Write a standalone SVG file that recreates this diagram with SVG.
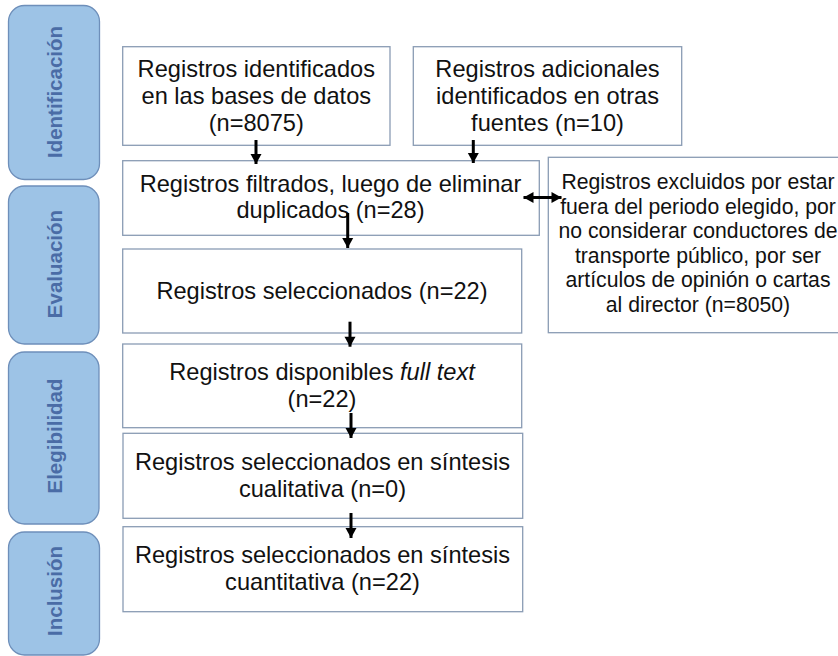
<svg xmlns="http://www.w3.org/2000/svg" width="838" height="656" viewBox="0 0 838 656">
<style>
.bar{fill:#9DC3E6;stroke:#6E8FBA;stroke-width:1.3}
.lab{font-family:"Liberation Sans",Arial,sans-serif;font-weight:bold;font-size:20.5px;fill:#4A6CA6;text-anchor:middle}
.box{fill:#FFFFFF;stroke:#8A9CB4;stroke-width:1.3}
.t{font-family:"Liberation Sans",Arial,sans-serif;font-size:23.6px;fill:#111111;text-anchor:middle}
.ts{font-family:"Liberation Sans",Arial,sans-serif;font-size:21.2px;fill:#111111;text-anchor:middle}
.arr{stroke:#000000;stroke-width:3;fill:none}
</style>
<defs>
<marker id="ah" markerUnits="userSpaceOnUse" markerWidth="12" markerHeight="12" viewBox="0 0 12 12" refX="10.5" refY="6" orient="auto-start-reverse">
<path d="M0.5,0.5 L10.5,6 L0.5,11.5 Z" fill="#000000"/>
</marker>
</defs>
<rect width="838" height="656" fill="#FFFFFF"/>
<g id="phase-identificacion">
<rect class="bar" x="8.5" y="5.5" width="91" height="174" rx="16"/>
<text class="lab" transform="translate(61.5,92) rotate(-90)">Identificación</text>
</g>
<g id="phase-evaluacion">
<rect class="bar" x="8.5" y="186" width="90.5" height="158" rx="16"/>
<text class="lab" transform="translate(61.5,264) rotate(-90)">Evaluación</text>
</g>
<g id="phase-elegibilidad">
<rect class="bar" x="8.5" y="352" width="90.5" height="172" rx="16"/>
<text class="lab" transform="translate(61.5,436) rotate(-90)">Elegibilidad</text>
</g>
<g id="phase-inclusion">
<rect class="bar" x="8.5" y="532" width="91" height="123" rx="16"/>
<text class="lab" transform="translate(61.5,591) rotate(-90)">Inclusión</text>
</g>
<g id="n-identificados">
<rect class="box" x="122.7" y="46.7" width="267.3" height="98.6"/>
<text class="t" x="256.3" y="77">Registros identificados</text>
<text class="t" x="256.3" y="104">en las bases de datos</text>
<text class="t" x="256.3" y="130.5">(n=8075)</text>
</g>
<g id="n-adicionales">
<rect class="box" x="413.3" y="46.7" width="268.4" height="98.6"/>
<text class="t" x="547.5" y="77">Registros adicionales</text>
<text class="t" x="547.5" y="104">identificados en otras</text>
<text class="t" x="547.5" y="130.5">fuentes (n=10)</text>
</g>
<g id="n-filtrados">
<rect class="box" x="122.7" y="160.7" width="416.6" height="74.6"/>
<text class="t" x="330.5" y="191.7">Registros filtrados, luego de eliminar</text>
<text class="t" x="330.5" y="218.3">duplicados (n=28)</text>
</g>
<g id="n-excluidos">
<rect class="box" x="548.3" y="157.3" width="296" height="175.4"/>
<text class="ts" x="698" y="189.3">Registros excluidos por estar</text>
<text class="ts" x="698" y="213.8">fuera del periodo elegido, por</text>
<text class="ts" x="698" y="238.3">no considerar conductores de</text>
<text class="ts" x="698" y="262.7">transporte público, por ser</text>
<text class="ts" x="698" y="287">artículos de opinión o cartas</text>
<text class="ts" x="698" y="311.7">al director (n=8050)</text>
</g>
<g id="n-seleccionados">
<rect class="box" x="122.7" y="249" width="399" height="84"/>
<text class="t" x="322" y="298.5">Registros seleccionados (n=22)</text>
</g>
<g id="n-fulltext">
<rect class="box" x="122.7" y="344" width="399" height="83.7"/>
<text class="t" x="322" y="380">Registros disponibles <tspan font-style="italic">full text</tspan></text>
<text class="t" x="322" y="407.3">(n=22)</text>
</g>
<g id="n-cualitativa">
<rect class="box" x="123" y="433.3" width="399.7" height="85"/>
<text class="t" x="322.5" y="470">Registros seleccionados en síntesis</text>
<text class="t" x="322.5" y="496.7">cualitativa (n=0)</text>
</g>
<g id="n-cuantitativa">
<rect class="box" x="123" y="526.7" width="399.7" height="85"/>
<text class="t" x="322.5" y="563.3">Registros seleccionados en síntesis</text>
<text class="t" x="322.5" y="590">cuantitativa (n=22)</text>
</g>
<g id="connectors">
<line class="arr" x1="256" y1="140" x2="256" y2="164" marker-end="url(#ah)"/>
<line class="arr" x1="473.3" y1="140" x2="473.3" y2="163" marker-end="url(#ah)"/>
<line class="arr" x1="347.7" y1="213" x2="347.7" y2="248" marker-end="url(#ah)"/>
<line class="arr" x1="350" y1="321.7" x2="350" y2="346.7" marker-end="url(#ah)"/>
<line class="arr" x1="351" y1="413" x2="351" y2="438" marker-end="url(#ah)"/>
<line class="arr" x1="351" y1="513" x2="351" y2="538" marker-end="url(#ah)"/>
<line class="arr" x1="523.5" y1="197.5" x2="561.5" y2="197.5" marker-start="url(#ah)" marker-end="url(#ah)"/>
</g>
</svg>
